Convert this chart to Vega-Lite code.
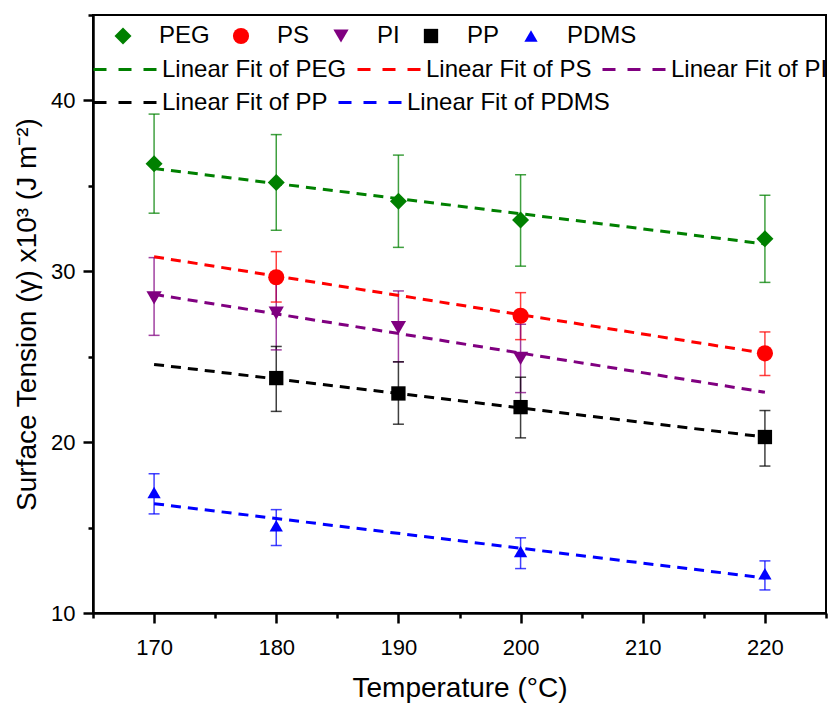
{
  "$schema": "https://vega.github.io/schema/vega-lite/v6.json",
  "width": 733,
  "height": 598,
  "autosize": "none",
  "padding": {"left": 93, "top": 15, "right": 2, "bottom": 91},
  "background": "white",
  "config": {
    "font": "Liberation Sans",
    "view": {"stroke": "black", "strokeWidth": 2},
    "axis": {
      "domainColor": "black", "tickColor": "black", "labelColor": "black", "titleColor": "black",
      "domainWidth": 2.5, "tickWidth": 2.5, "grid": false, "titleFontWeight": "normal",
      "labelFont": "Liberation Sans", "titleFont": "Liberation Sans"
    },
    "legend": {"labelFont": "Liberation Sans", "labelColor": "black"}
  },
  "datasets": {
    "pts": [
      {"polymer": "PEG", "T": 170, "y": 36.3, "lo": 33.4, "hi": 39.2},
      {"polymer": "PEG", "T": 180, "y": 35.2, "lo": 32.4, "hi": 38.0},
      {"polymer": "PEG", "T": 190, "y": 34.1, "lo": 31.4, "hi": 36.8},
      {"polymer": "PEG", "T": 200, "y": 33.0, "lo": 30.3, "hi": 35.65},
      {"polymer": "PEG", "T": 220, "y": 31.9, "lo": 29.35, "hi": 34.45},
      {"polymer": "PS", "T": 180, "y": 29.65, "lo": 28.2, "hi": 31.15},
      {"polymer": "PS", "T": 200, "y": 27.4, "lo": 26.0, "hi": 28.75},
      {"polymer": "PS", "T": 220, "y": 25.2, "lo": 23.9, "hi": 26.45},
      {"polymer": "PI", "T": 170, "y": 28.45, "lo": 26.25, "hi": 30.8},
      {"polymer": "PI", "T": 180, "y": 27.55, "lo": 25.4, "hi": 29.8},
      {"polymer": "PI", "T": 190, "y": 26.7, "lo": 24.7, "hi": 28.85},
      {"polymer": "PI", "T": 200, "y": 24.9, "lo": 22.9, "hi": 26.9},
      {"polymer": "PP", "T": 180, "y": 23.75, "lo": 21.8, "hi": 25.6},
      {"polymer": "PP", "T": 190, "y": 22.85, "lo": 21.05, "hi": 24.7},
      {"polymer": "PP", "T": 200, "y": 22.05, "lo": 20.25, "hi": 23.8},
      {"polymer": "PP", "T": 220, "y": 20.3, "lo": 18.6, "hi": 21.85},
      {"polymer": "PDMS", "T": 170, "y": 17.05, "lo": 15.8, "hi": 18.15},
      {"polymer": "PDMS", "T": 180, "y": 15.1, "lo": 13.95, "hi": 16.05},
      {"polymer": "PDMS", "T": 200, "y": 13.6, "lo": 12.6, "hi": 14.4},
      {"polymer": "PDMS", "T": 220, "y": 12.3, "lo": 11.35, "hi": 13.05}
    ],
    "fit": [
      {"fit": "Linear Fit of PEG", "T": 170, "y": 36.02},
      {"fit": "Linear Fit of PEG", "T": 220, "y": 31.6},
      {"fit": "Linear Fit of PS", "T": 170, "y": 30.85},
      {"fit": "Linear Fit of PS", "T": 220, "y": 25.2},
      {"fit": "Linear Fit of PI", "T": 170, "y": 28.65},
      {"fit": "Linear Fit of PI", "T": 220, "y": 22.92},
      {"fit": "Linear Fit of PP", "T": 170, "y": 24.55},
      {"fit": "Linear Fit of PP", "T": 220, "y": 20.3},
      {"fit": "Linear Fit of PDMS", "T": 170, "y": 16.4},
      {"fit": "Linear Fit of PDMS", "T": 220, "y": 12.05}
    ]
  },
  "layer": [
    {
      "data": {"name": "pts"},
      "mark": {"type": "rule", "strokeWidth": 1.5, "opacity": 0.75},
      "encoding": {
        "x": {"field": "T", "type": "quantitative", "scale": {"domain": [165, 225], "nice": false, "zero": false}, "axis": null},
        "y": {"field": "lo", "type": "quantitative", "scale": {"domain": [10, 45], "nice": false, "zero": false}, "axis": null},
        "y2": {"field": "hi"},
        "color": {"field": "polymer", "type": "nominal", "scale": {"domain": ["PEG", "PS", "PI", "PP", "PDMS"], "range": ["#008000", "#ff0000", "#800080", "#000000", "#0000ff"]}, "legend": null}
      }
    },
    {
      "data": {"name": "pts"},
      "mark": {"type": "tick", "orient": "horizontal", "size": 11, "thickness": 1.5, "opacity": 0.75},
      "encoding": {
        "x": {"field": "T", "type": "quantitative", "axis": null},
        "y": {"field": "lo", "type": "quantitative", "axis": null},
        "color": {"field": "polymer", "type": "nominal", "scale": {"domain": ["PEG", "PS", "PI", "PP", "PDMS"], "range": ["#008000", "#ff0000", "#800080", "#000000", "#0000ff"]}, "legend": null}
      }
    },
    {
      "data": {"name": "pts"},
      "mark": {"type": "tick", "orient": "horizontal", "size": 11, "thickness": 1.5, "opacity": 0.75},
      "encoding": {
        "x": {"field": "T", "type": "quantitative", "axis": null},
        "y": {"field": "hi", "type": "quantitative", "axis": null},
        "color": {"field": "polymer", "type": "nominal", "scale": {"domain": ["PEG", "PS", "PI", "PP", "PDMS"], "range": ["#008000", "#ff0000", "#800080", "#000000", "#0000ff"]}, "legend": null}
      }
    },
    {
      "data": {"name": "fit"},
      "transform": [{"filter": {"field": "fit", "oneOf": ["Linear Fit of PEG", "Linear Fit of PS", "Linear Fit of PI"]}}],
      "mark": {"type": "line", "strokeWidth": 3, "strokeDash": [10, 7]},
      "encoding": {
        "x": {"field": "T", "type": "quantitative",
          "axis": {"orient": "bottom", "values": [165, 175, 185, 195, 205, 215, 225], "tickSize": 5, "labels": false, "domain": false, "title": null}},
        "y": {"field": "y", "type": "quantitative",
          "axis": {"orient": "left", "values": [15, 25, 35, 45], "tickSize": 5, "labels": false, "domain": false, "title": null}},
        "stroke": {"field": "fit", "type": "nominal",
          "scale": {"domain": ["Linear Fit of PEG", "Linear Fit of PS", "Linear Fit of PI"], "range": ["#008000", "#ff0000", "#800080"]},
          "legend": {"orient": "none", "legendX": -1, "legendY": 21, "direction": "horizontal", "columns": 3, "gridAlign": "none",
            "symbolType": "stroke", "symbolSize": 4096, "symbolStrokeWidth": 3, "symbolDash": [13, 12],
            "labelOffset": 3, "columnPadding": 4, "labelFontSize": 24, "labelLimit": 400, "title": null, "padding": 0}}
      }
    },
    {
      "data": {"name": "fit"},
      "transform": [{"filter": {"field": "fit", "oneOf": ["Linear Fit of PP", "Linear Fit of PDMS"]}}],
      "mark": {"type": "line", "strokeWidth": 3, "strokeDash": [10, 7]},
      "encoding": {
        "x": {"field": "T", "type": "quantitative", "axis": null},
        "y": {"field": "y", "type": "quantitative", "axis": null},
        "stroke": {"field": "fit", "type": "nominal",
          "scale": {"domain": ["Linear Fit of PP", "Linear Fit of PDMS"], "range": ["#000000", "#0000ff"]},
          "legend": {"orient": "none", "legendX": -1, "legendY": 54, "direction": "horizontal", "columns": 2, "gridAlign": "none",
            "symbolType": "stroke", "symbolSize": 4096, "symbolStrokeWidth": 3, "symbolDash": [13, 12],
            "labelOffset": 3, "columnPadding": 4, "labelFontSize": 24, "labelLimit": 400, "title": null, "padding": 0}}
      }
    },
    {
      "data": {"name": "pts"},
      "mark": {"type": "point", "filled": true, "opacity": 1, "strokeWidth": 0},
      "encoding": {
        "x": {"field": "T", "type": "quantitative",
          "axis": {"orient": "bottom", "values": [170, 180, 190, 200, 210, 220], "tickSize": 10, "labelFontSize": 22, "labelPadding": 14,
            "title": "Temperature (°C)", "titleFontSize": 28, "titlePadding": 16}},
        "y": {"field": "y", "type": "quantitative",
          "axis": {"orient": "left", "values": [10, 20, 30, 40], "tickSize": 10, "labelFontSize": 22, "labelPadding": 8,
            "title": "Surface Tension (γ) x10³ (J m⁻²)", "titleFontSize": 28, "titlePadding": 9}},
        "color": {"field": "polymer", "type": "nominal",
          "scale": {"domain": ["PEG", "PS", "PI", "PP", "PDMS"], "range": ["#008000", "#ff0000", "#800080", "#000000", "#0000ff"]},
          "legend": {"orient": "none", "legendX": 18, "legendY": 9, "direction": "horizontal", "columns": 5, "gridAlign": "none",
            "symbolSize": 250, "labelOffset": 24, "columnPadding": 19, "labelFontSize": 24, "title": null, "padding": 0}},
        "shape": {"field": "polymer", "type": "nominal",
          "scale": {"domain": ["PEG", "PS", "PI", "PP", "PDMS"], "range": ["diamond", "circle", "triangle-down", "square", "triangle-up"]},
          "legend": {"orient": "none", "legendX": 18, "legendY": 9, "direction": "horizontal", "columns": 5, "gridAlign": "none",
            "symbolSize": 250, "labelOffset": 24, "columnPadding": 19, "labelFontSize": 24, "title": null, "padding": 0}},
        "size": {"field": "polymer", "type": "nominal",
          "scale": {"domain": ["PEG", "PS", "PI", "PP", "PDMS"], "range": [289, 177, 460, 121, 460]}, "legend": null}
      }
    }
  ],
  "resolve": {
    "scale": {"color": "independent", "shape": "independent", "size": "independent", "stroke": "independent"},
    "axis": {"x": "independent", "y": "independent"}
  }
}
